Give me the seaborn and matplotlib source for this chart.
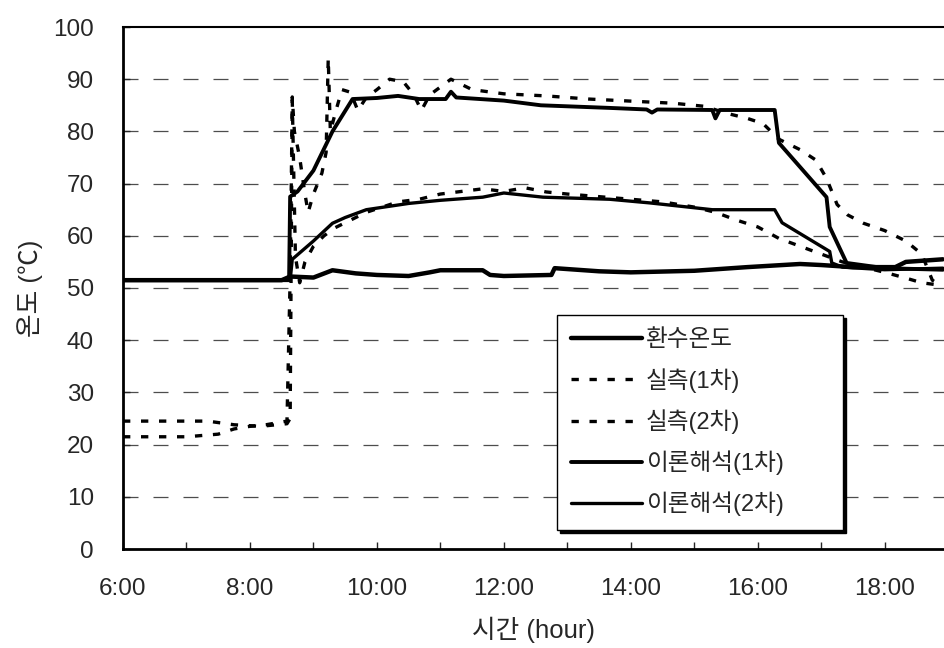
import matplotlib
matplotlib.use("Agg")
import matplotlib.pyplot as plt
import seaborn as sns

# return water temperature
return_t = ["6:00", "8:30", "8:38", "9:00", "9:18", "9:40", "10:00", "10:30", "10:50", "11:00",
            "11:40", "11:47", "12:00", "12:45", "12:48", "13:30", "14:00", "15:00", "15:50", "16:40",
            "17:00", "17:30", "18:10", "18:20", "18:55"]
return_v = [51.5, 51.5, 52.2, 52.0, 53.4, 52.8, 52.5, 52.3, 53.0, 53.4,
            53.4, 52.5, 52.3, 52.5, 53.8, 53.2, 53.0, 53.3, 54.0, 54.6,
            54.4, 54.0, 54.0, 55.0, 55.5]

# measured, 1st
meas1_t = ["6:00", "7:20", "7:45", "8:10", "8:35", "8:38", "8:40", "8:42", "8:47", "8:52",
           "8:55", "9:00", "9:08", "9:12", "9:14", "9:16", "9:22", "9:27", "9:35", "9:42",
           "9:50", "10:00", "10:12", "10:25", "10:35", "10:42", "10:50", "11:10", "11:30", "12:00",
           "12:40", "13:20", "14:00", "14:40", "15:10", "15:30", "15:50", "16:05", "16:20", "16:40",
           "16:55", "17:05", "17:15", "17:25", "17:40", "18:00", "18:20", "18:35", "18:45", "18:55"]
meas1_v = [24.5, 24.5, 23.8, 23.5, 24.0, 25.0, 86.6, 80.0, 75.0, 68.0,
           64.5, 68.0, 72.0, 76.0, 94.0, 80.0, 84.5, 88.0, 87.5, 84.0,
           86.5, 88.0, 90.0, 89.5, 87.0, 84.0, 87.0, 90.0, 88.0, 87.2,
           86.8, 86.2, 85.8, 85.4, 84.8, 83.5, 82.5, 81.5, 78.5, 76.5,
           74.5, 71.0, 66.0, 64.0, 62.4, 61.0, 59.0, 56.5, 51.5, 50.2]

# measured, 2nd
meas2_t = ["6:00", "7:00", "7:30", "7:45", "8:00", "8:15", "8:35", "8:38", "8:40", "8:43",
           "8:47", "8:52", "9:00", "9:10", "9:20", "9:35", "9:50", "10:05", "10:20", "10:40",
           "11:00", "11:20", "11:40", "12:00", "12:20", "12:40", "13:00", "13:30", "14:00", "14:30",
           "15:00", "15:20", "15:40", "16:00", "16:20", "16:40", "17:00", "17:20", "17:40", "18:00",
           "18:20", "18:35", "18:50"]
meas2_v = [21.5, 21.5, 22.0, 23.0, 23.5, 23.8, 24.5, 52.0, 86.0, 56.0,
           51.0, 55.0, 58.0, 60.0, 61.5, 63.0, 64.5, 65.5, 66.5, 67.0,
           68.0, 68.5, 69.0, 68.5, 69.2, 68.4, 68.0, 67.5, 67.0, 66.5,
           65.5, 64.5, 63.0, 61.7, 59.5, 58.0, 56.5, 55.0, 54.0, 53.0,
           51.9, 51.0, 50.6]

# theory, 1st
theo1_t = ["6:00", "8:37", "8:38", "8:45", "9:00", "9:18", "9:37", "10:00", "10:20", "10:40",
           "11:05", "11:10", "11:15", "12:00", "12:35", "13:40", "14:15", "14:20", "14:25", "15:17",
           "15:20", "15:24", "16:16", "16:20", "17:05", "17:08", "17:24", "18:00", "18:55"]
theo1_v = [51.5, 51.5, 67.5, 68.5, 72.5, 80.0, 86.2, 86.4, 86.8, 86.2,
           86.2, 87.6, 86.5, 85.9, 85.0, 84.5, 84.2, 83.6, 84.2, 84.1,
           82.5, 84.1, 84.1, 77.8, 67.4, 61.7, 54.8, 53.8, 53.5]

# theory, 2nd
theo2_t = ["6:00", "8:38", "8:40", "9:00", "9:18", "9:30", "9:50", "10:30", "11:00", "11:40",
           "12:00", "12:37", "13:40", "14:18", "15:17", "16:16", "16:23", "17:08", "17:10", "17:20",
           "18:00", "18:55"]
theo2_v = [51.5, 51.5, 55.5, 59.0, 62.4, 63.5, 65.0, 66.2, 66.8, 67.4,
           68.2, 67.4, 67.0, 66.3, 65.0, 65.0, 62.5, 57.0, 54.8, 54.0,
           53.5, 53.8]

labels = ["환수온도", "실측(1차)", "실측(2차)", "이론해석(1차)", "이론해석(2차)"]
xtick_hours = list(range(6, 19))


def hours(ts):
    out = []
    for t in ts:
        h, m = t.split(":")
        out.append(int(h) + int(m) / 60)
    return out


sns.set_style("white")
plt.rcParams["font.family"] = ["Liberation Sans", "Noto Sans CJK KR", "DejaVu Sans"]

fig = plt.figure(figsize=(9.45, 6.48), dpi=100)
ax = fig.add_axes([123 / 945, 99 / 648, 822 / 945, 522 / 648])

for yv in range(10, 100, 10):
    ax.axhline(yv, color="0.3", lw=0.9, dashes=(12, 12), zorder=0)

sns.lineplot(x=hours(return_t), y=return_v, ax=ax, color="black", lw=3.2,
             estimator=None, sort=False, label=labels[0])
sns.lineplot(x=hours(meas1_t), y=meas1_v, ax=ax, color="black", lw=2.4,
             dashes=False, estimator=None, sort=False, label=labels[1])
sns.lineplot(x=hours(meas2_t), y=meas2_v, ax=ax, color="black", lw=2.4,
             dashes=False, estimator=None, sort=False, label=labels[2])
sns.lineplot(x=hours(theo1_t), y=theo1_v, ax=ax, color="black", lw=2.8,
             estimator=None, sort=False, label=labels[3])
sns.lineplot(x=hours(theo2_t), y=theo2_v, ax=ax, color="black", lw=2.4,
             estimator=None, sort=False, label=labels[4])
ax.lines[-4].set_dashes((2.2, 3.2))
ax.lines[-3].set_dashes((2.2, 3.2))

ax.set_xlim(6, 18.95)
ax.set_ylim(0, 100)
ax.set_xticks(xtick_hours)
ax.set_xticklabels([f"{h}:00" if h % 2 == 0 else "" for h in xtick_hours])
ax.set_yticks(range(0, 101, 10))
ax.tick_params(direction="in", length=5, width=1, labelsize=17.5, pad=21,
               bottom=True, left=True)

for s in ["left", "bottom"]:
    ax.spines[s].set_linewidth(2)
    ax.spines[s].set_color("black")
ax.spines["top"].set_linewidth(1.5)
ax.spines["top"].set_color("black")
ax.spines["right"].set_visible(False)

ax.set_xlabel("시간 (hour)", fontsize=18.5, labelpad=12)
ax.set_ylabel("온도 (℃)", fontsize=18.5, labelpad=7)

leg = ax.legend(loc="upper left", bbox_to_anchor=(0.528, 0.05, 0.348, 0.398),
                mode="expand", fontsize=17,
                frameon=True, fancybox=False, edgecolor="black", framealpha=1,
                shadow={"color": "black", "alpha": 1}, handlelength=3.0,
                handletextpad=0.15, labelspacing=0.7, borderpad=0.6,
                borderaxespad=0)
leg.get_frame().set_linewidth(1.0)

fig.savefig("out.png", dpi=100)
